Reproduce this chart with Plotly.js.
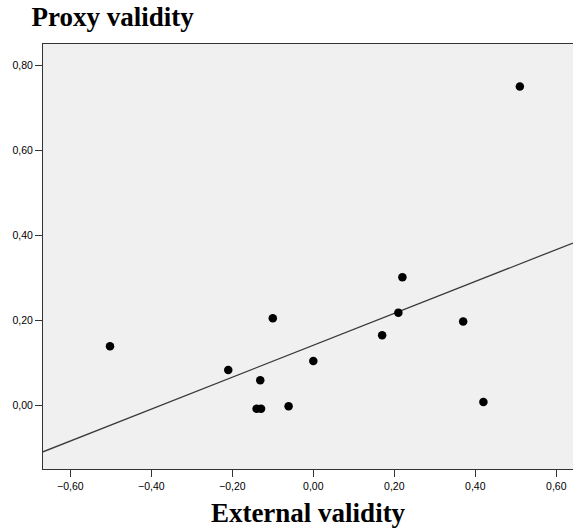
<!DOCTYPE html>
<html>
<head>
<meta charset="utf-8">
<script src="https://cdn.plot.ly/plotly-3.0.1.min.js"></script>
<style>
  html, body { margin: 0; padding: 0; background: #ffffff; }
  #chart { width: 573px; height: 529px; }
</style>
</head>
<body>
<div id="chart"></div>
<script>
// Data
const externalValidity = [-0.502, -0.210, -0.100, -0.131, -0.140, -0.129, -0.061, 0.000, 0.170, 0.210, 0.220, 0.370, 0.420, 0.510];
const proxyValidity    = [ 0.140,  0.084,  0.206,  0.060, -0.007, -0.007, -0.001, 0.105, 0.166, 0.219, 0.302, 0.198, 0.009, 0.751];
const xTickVals = [-0.6, -0.4, -0.2, 0.0, 0.2, 0.4, 0.6];
const yTickVals = [0.0, 0.2, 0.4, 0.6, 0.8];
const xRange = [-0.6674, 0.6412];
const yRange = [-0.1489, 0.851];

// Ordinary least squares fit line
const n = externalValidity.length;
const mx = externalValidity.reduce((a, b) => a + b, 0) / n;
const my = proxyValidity.reduce((a, b) => a + b, 0) / n;
let sxy = 0, sxx = 0;
for (let i = 0; i < n; i++) {
  sxy += (externalValidity[i] - mx) * (proxyValidity[i] - my);
  sxx += (externalValidity[i] - mx) ** 2;
}
const slope = sxy / sxx;
const intercept = my - slope * mx;
const fitX = xRange.slice();
const fitY = fitX.map(x => intercept + slope * x);

const tickFont = { family: 'Liberation Sans, Arial, sans-serif', size: 10.5, color: '#000000' };
const titleFont = { family: 'Liberation Serif, Times New Roman, serif', size: 27, color: '#000000', weight: 'bold' };

const traces = [
  {
    x: fitX, y: fitY, mode: 'lines', type: 'scatter',
    line: { color: '#3a3a3a', width: 1.3 },
    hoverinfo: 'skip', showlegend: false
  },
  {
    x: externalValidity, y: proxyValidity, mode: 'markers', type: 'scatter',
    marker: { color: '#000000', size: 8.5 },
    showlegend: false, cliponaxis: false
  }
];

const layout = {
  width: 573, height: 529,
  margin: { l: 43, r: 0, t: 44, b: 60, pad: 0 },
  paper_bgcolor: '#ffffff',
  plot_bgcolor: '#f0f0f0',
  separators: ',.',
  showlegend: false,
  title: {
    text: 'Proxy validity',
    font: titleFont,
    xref: 'container', yref: 'container',
    x: 31.5 / 573, xanchor: 'left',
    y: 1 - 7 / 529, yanchor: 'top'
  },
  xaxis: {
    range: xRange,
    tickvals: xTickVals,
    tickformat: '.2f',
    ticks: 'outside', ticklen: 7, tickwidth: 1, tickcolor: '#333333',
    showline: true, linecolor: '#333333', linewidth: 1, mirror: true,
    showgrid: false, zeroline: false,
    tickfont: tickFont,
    title: { text: 'External validity', font: titleFont, standoff: 12 }
  },
  yaxis: {
    range: yRange,
    tickvals: yTickVals,
    tickformat: '.2f',
    ticks: 'outside', ticklen: 7, tickwidth: 1, tickcolor: '#333333',
    showline: true, linecolor: '#333333', linewidth: 1, mirror: true,
    showgrid: false, zeroline: false,
    tickfont: tickFont
  }
};

Plotly.newPlot('chart', traces, layout, { staticPlot: true, displayModeBar: false });
</script>
</body>
</html>
